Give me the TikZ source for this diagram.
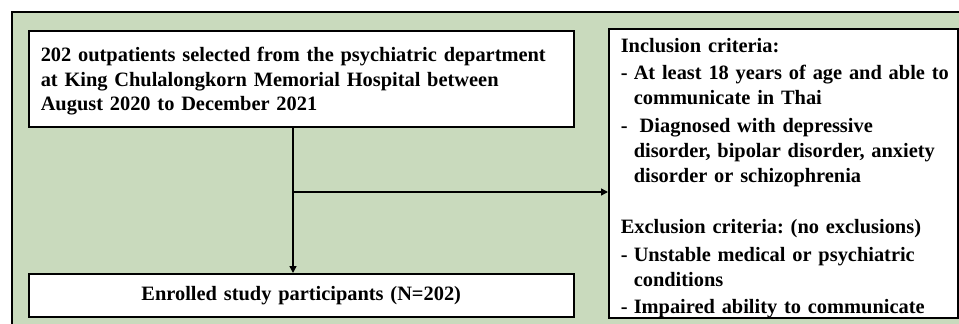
\documentclass[tikz,border=0pt]{standalone}
\usepackage{fontspec}
\setmainfont{Liberation Serif}
\usetikzlibrary{arrows.meta,positioning}

\definecolor{panelgreen}{RGB}{201,218,189}
\newcommand{\itm}{\makebox[13pt][l]{-}}
\newcommand{\cont}{\hspace*{13pt}}

\begin{document}
\begin{tikzpicture}[
    x=1pt, y=-1pt,
    every node/.style={font=\bfseries\fontsize{20.4}{24.5}\selectfont\frenchspacing},
    whitebox/.style={draw, line width=1.5pt, fill=white, anchor=north west, inner xsep=12pt, inner ysep=0pt},
    link/.style={line width=1.5pt, -{Triangle[length=7pt,width=7pt]}}
]
\useasboundingbox (0,0) rectangle (959,324);

% Background panel
\draw[line width=2pt, fill=panelgreen] (12,12) rectangle (975,340);

% Boxes
\node[whitebox, minimum width=545, minimum height=96, text width=521, align=left] (src) at (28,30)
    {\rule{0pt}{20pt}202 outpatients selected from the psychiatric department\\
     at King Chulalongkorn Memorial Hospital between\\
     August 2020 to December 2021};

\node[whitebox, minimum width=545, minimum height=43, text width=521, align=center] (enrol) at (28,273)
    {Enrolled study participants (N=202)};

\node[whitebox, minimum width=349, minimum height=287, text width=325, align=left, font=\bfseries\fontsize{20.4}{25}\selectfont\frenchspacing] (crit) at (608,28)
    {\rule{0pt}{24pt}Inclusion criteria:\\[2pt]
     \mbox{\itm At least 18 years of age and able to}\\
     \cont communicate in Thai\\[3pt]
     \itm\hspace{6pt}Diagnosed with depressive\\
     \mbox{\cont disorder, bipolar disorder, anxiety}\\
     \cont disorder or schizophrenia\\[26pt]
     \mbox{Exclusion criteria: (no exclusions)}\\[3pt]
     \itm Unstable medical or psychiatric\\
     \cont conditions\\[2pt]
     \mbox{\itm Impaired ability to communicate}};

% Connectors
\coordinate (fork) at (293,192);
\draw[link] (src.south -| fork) -- (enrol.north -| fork);
\draw[link] (fork) -- (fork -| crit.west);

\end{tikzpicture}
\end{document}
